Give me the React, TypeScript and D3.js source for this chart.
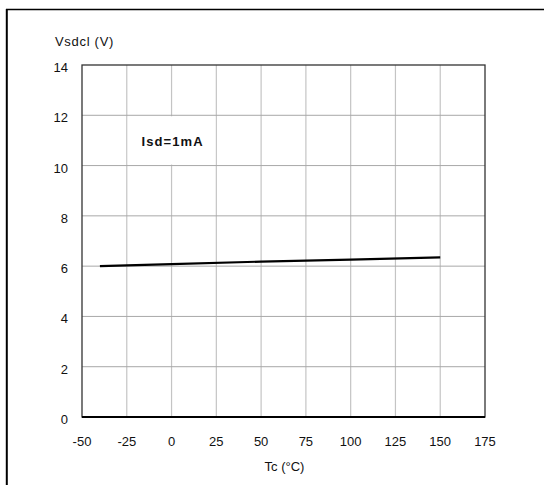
import { useMemo } from "react";
import * as d3 from "d3";

const xTicks = [-50, -25, 0, 25, 50, 75, 100, 125, 150, 175];
const yTicks = [0, 2, 4, 6, 8, 10, 12, 14];
const tempC = [-40, 0, 50, 100, 150];
const vsdcl = [6.0, 6.08, 6.18, 6.26, 6.35];

const App = () => {
  const width = 544;
  const height = 485;
  const margin = { top: 65, right: 59, bottom: 68, left: 82 };
  const innerWidth = width - margin.left - margin.right;
  const innerHeight = height - margin.top - margin.bottom;
  const font = "'Liberation Sans', Arial, sans-serif";

  const xScale = useMemo(
    () => d3.scaleLinear().domain([-50, 175]).range([0, innerWidth]),
    [innerWidth]
  );
  const yScale = useMemo(
    () => d3.scaleLinear().domain([0, 14]).range([innerHeight, 0]),
    [innerHeight]
  );

  const line = d3
    .line<number>()
    .x((d, i) => xScale(tempC[i]))
    .y((d) => yScale(d));

  return (
    <svg
      width={width}
      height={height}
      viewBox={`0 0 ${width} ${height}`}
      style={{ position: "absolute", left: 0, top: 0, background: "#fff" }}
      fontFamily={font}
    >
      {/* outer frame */}
      <line x1={6} x2={width} y1={9.5} y2={9.5} stroke="#000" strokeWidth={1.6} />
      <line x1={6.8} x2={6.8} y1={9} y2={height} stroke="#000" strokeWidth={2} />

      <text x={55} y={46} fontSize={13} letterSpacing={0.7} fill="#111">
        Vsdcl (V)
      </text>

      <g transform={`translate(${margin.left}, ${margin.top})`}>
        {xTicks.slice(1, -1).map((t) => (
          <line
            key={`gx${t}`}
            x1={xScale(t)}
            x2={xScale(t)}
            y1={0}
            y2={innerHeight}
            stroke="#c4c4c4"
            strokeWidth={1.2}
          />
        ))}
        {yTicks.slice(1, -1).map((t) => (
          <line
            key={`gy${t}`}
            x1={0}
            x2={innerWidth}
            y1={yScale(t)}
            y2={yScale(t)}
            stroke="#a8a8a8"
            strokeWidth={1}
          />
        ))}

        {/* label box */}
        <rect
          x={xScale(-25) + 1}
          y={yScale(12) + 1}
          width={xScale(25) - xScale(-25) - 2}
          height={yScale(10) - yScale(12) - 2}
          fill="#fff"
        />
        <text
          x={xScale(0) + 1}
          y={yScale(11) + 6}
          textAnchor="middle"
          fontSize={13}
          fontWeight="bold"
          letterSpacing={1.1}
          fill="#111"
        >
          Isd=1mA
        </text>

        <rect
          x={0}
          y={0}
          width={innerWidth}
          height={innerHeight}
          fill="none"
          stroke="#333"
          strokeWidth={1.3}
        />
        <line x1={0} x2={innerWidth} y1={innerHeight} y2={innerHeight} stroke="#000" strokeWidth={2} />

        <path d={line(vsdcl) ?? ""} fill="none" stroke="#000" strokeWidth={2.2} />

        {yTicks.map((t) => (
          <text
            key={`ty${t}`}
            x={-14}
            y={yScale(t) + 7}
            textAnchor="end"
            fontSize={13}
            fill="#111"
          >
            {t}
          </text>
        ))}
        {xTicks.map((t) => (
          <text
            key={`tx${t}`}
            x={xScale(t)}
            y={innerHeight + 29}
            textAnchor="middle"
            fontSize={13}
            fill="#111"
          >
            {t}
          </text>
        ))}
        <text
          x={innerWidth / 2 + 1}
          y={innerHeight + 54}
          textAnchor="middle"
          fontSize={13}
          fill="#111"
        >
          Tc (°C)
        </text>
      </g>
    </svg>
  );
};

export default App;
